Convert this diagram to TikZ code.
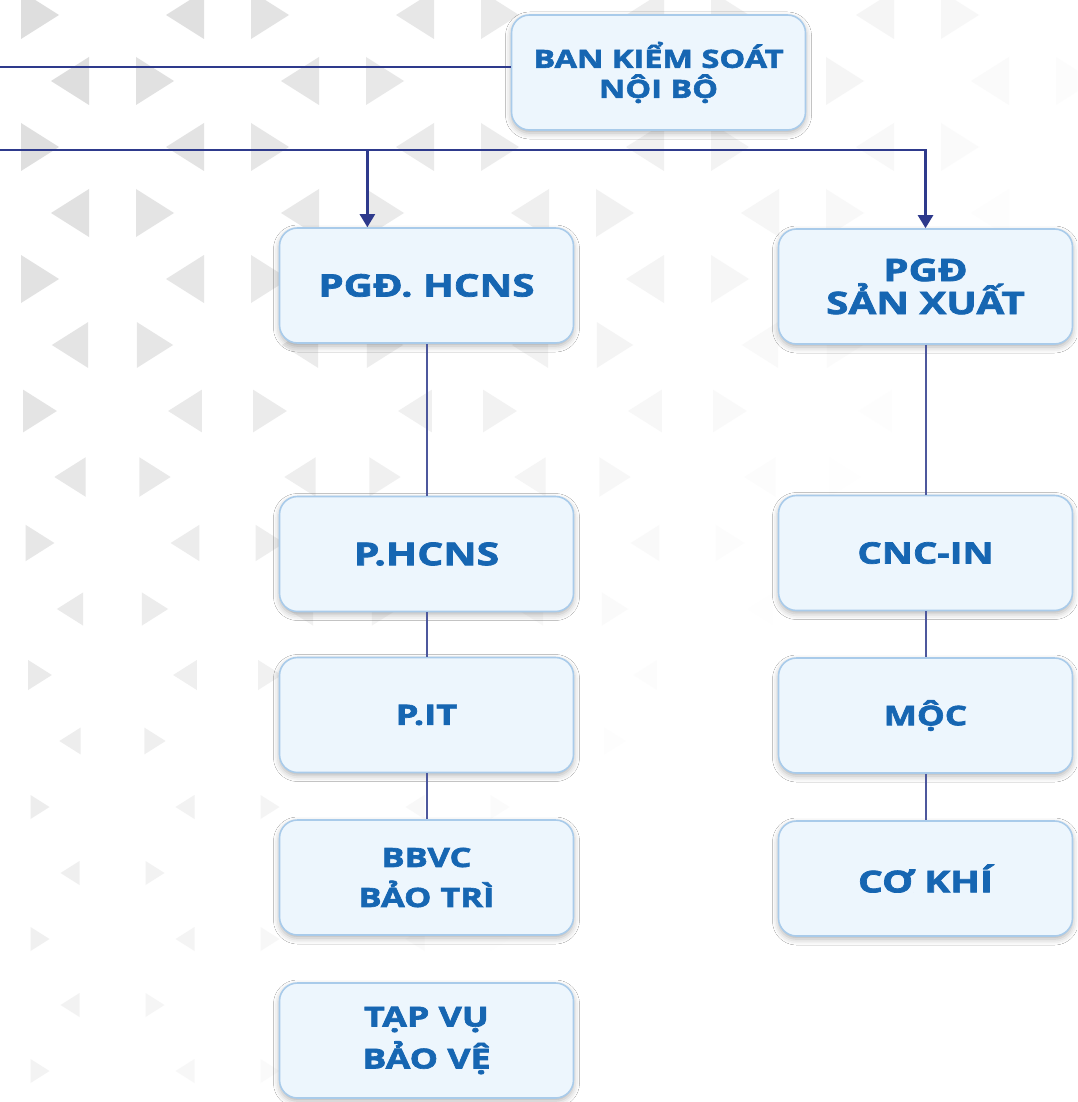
\documentclass[tikz,border=0pt]{standalone}
\usepackage{fontspec}
\setmainfont{Open Sans}
\newfontfamily\orgfont[FakeStretch=1.3,FakeBold=2.4]{Open Sans}
\usetikzlibrary{arrows.meta,shadows.blur,calc}
\definecolor{navy}{HTML}{2E3A8C}
\definecolor{boxfill}{HTML}{EDF6FD}
\definecolor{boxborder}{HTML}{A9CBEA}
\definecolor{txtblue}{HTML}{1666B2}
\definecolor{trigray}{HTML}{DEDEDE}
\tikzset{
  org/.style={draw=boxborder, line width=1.6pt, fill=boxfill, rounded corners=18pt,
    minimum width=294pt, minimum height=115pt, align=center, text=txtblue, inner sep=0pt,
    font=\orgfont\bfseries\fontsize{29}{33}\selectfont,
    blur shadow={shadow xshift=0pt, shadow yshift=-3pt, shadow blur radius=6pt, shadow opacity=30}},
  fs/.style 2 args={font=\orgfont\bfseries\fontsize{#1}{#2}\selectfont},
  conn/.style={draw=navy, line width=2.4pt},
  vconn/.style={draw=navy!85, line width=2pt},
  tip/.style={-{Triangle[width=15pt,length=13pt]}}
}
\begin{document}
\begin{tikzpicture}[x=1pt,y=-1pt]
\fill[white] (0,0) rectangle (1077,1102);
\useasboundingbox (0,0) rectangle (1077,1102);
% background triangles
\foreach \r in {0,...,16}{
  \foreach \m in {0,...,5}{
    \pgfmathsetmacro\cy{15+66*\r}
    \pgfmathsetmacro\ax{70-115*(1-mod(\r,2))+230*\m}
    \pgfmathsetmacro\bx{\ax+85}
    \pgfmathsetmacro\op{max(0,min(1,1.1-\ax/1100-\cy/1500))}
    \pgfmathsetmacro\opb{max(0,min(1,1.1-\bx/1100-\cy/1500))}
    \pgfmathsetmacro\s{min(1,max(0.5,1.3-\cy/1000))}
    \fill[trigray,opacity=\op] (\ax-19*\s,\cy) -- (\ax+19*\s,\cy-24*\s) -- (\ax+19*\s,\cy+24*\s) -- cycle;
    \fill[trigray,opacity=\opb] (\bx+19*\s,\cy) -- (\bx-19*\s,\cy-24*\s) -- (\bx-19*\s,\cy+24*\s) -- cycle;
  }
}
% boxes
\node[org,fs={25}{30}] (bks) at (658.5,72.5) {BAN KIỂM SOÁT\\NỘI BỘ};
\node[org,fs={31}{35}] (hc) at (426.5,285.5) {PGĐ. HCNS};
\node[org,fs={31}{33}] (sx) at (925.5,286.5) {PGĐ\\SẢN XUẤT};
\node[org,fs={31.5}{35}] (phcns) at (426.5,554) {P.HCNS};
\node[org,fs={28}{32}] (pit) at (426.5,715) {P.IT};
\node[org,fs={26.5}{40}] (bbvc) at (426.5,877.5) {BBVC\\BẢO TRÌ};
\node[org,fs={27.5}{42}] (tapvu) at (426.5,1040.5) {TẠP VỤ\\BẢO VỆ};
\node[org,fs={29.5}{33}] (cnc) at (925.5,553) {CNC-IN};
\node[org,fs={27}{31}] (moc) at (925.5,715.5) {MỘC};
\node[org,fs={30}{34}] (cokhi) at (925.5,878.5) {CƠ KHÍ};
% connectors
\coordinate (l1) at (0,67);
\coordinate (l2) at (0,150);
\coordinate (hcin) at ($(hc.north west)!0.3!(hc.north east)$);
\draw[conn] (l1) -- (l1 -| bks.west);
\draw[conn,tip] (l2) -| (sx.north);
\draw[conn,tip] (hcin |- l2) -- (hcin);
\draw[vconn] (hc.south) -- (phcns.north);
\draw[vconn] (phcns.south) -- (pit.north);
\draw[vconn] (pit.south) -- (bbvc.north);
\draw[vconn] (sx.south) -- (cnc.north);
\draw[vconn] (cnc.south) -- (moc.north);
\draw[vconn] (moc.south) -- (cokhi.north);
\end{tikzpicture}
\end{document}
